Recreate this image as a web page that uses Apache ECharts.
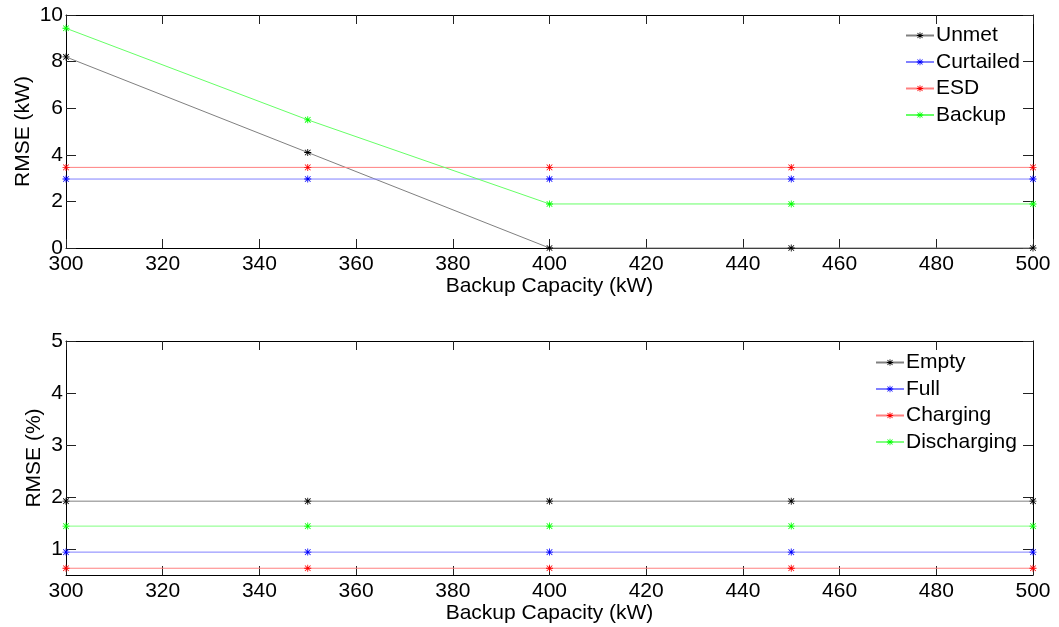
<!DOCTYPE html>
<html>
<head>
<meta charset="utf-8">
<script src="https://cdn.jsdelivr.net/npm/echarts@6/dist/echarts.min.js"></script>
<style>html,body{margin:0;padding:0;background:#fff}#c{width:1059px;height:627px}</style>
</head>
<body>
<div id="c"></div>
<script>
var capacity = [300, 350, 400, 450, 500];
var unmet = [8.2, 4.1, 0, 0, 0];
var curtailed = [2.96, 2.96, 2.96, 2.96, 2.96];
var esd = [3.46, 3.46, 3.46, 3.46, 3.46];
var backup = [9.43, 5.5, 1.89, 1.89, 1.89];

var empty = [1.92, 1.92, 1.92, 1.92, 1.92];
var full = [0.94, 0.94, 0.94, 0.94, 0.94];
var charging = [0.63, 0.63, 0.63, 0.63, 0.63];
var discharging = [1.44, 1.44, 1.44, 1.44, 1.44];

var xTicks = [300, 320, 340, 360, 380, 400, 420, 440, 460, 480, 500];
var yTicksTop = [0, 2, 4, 6, 8, 10];
var yTicksBottom = [1, 2, 3, 4, 5];

var FONT = 'Liberation Sans, Arial, sans-serif';
var FS = 21;
var STAR = 'path://M0 4.4L10 4.4L10 5.6L0 5.6Z M4.4 0L5.6 0L5.6 10L4.4 10Z M0.6 1.4L1.4 0.6L9.4 8.6L8.6 9.4Z M8.6 0.6L9.4 1.4L1.4 9.4L0.6 8.6Z';

function pairs(ys) { return capacity.map(function (x, i) { return [x, ys[i]]; }); }

function mkSeries(name, ys, color, lineColor, gi) {
  return {
    name: name, type: 'line', data: pairs(ys),
    xAxisIndex: gi * 2, yAxisIndex: gi * 2,
    symbol: STAR, symbolSize: 7, showSymbol: true,
    itemStyle: { color: color },
    lineStyle: { color: lineColor, width: 1 },
    emphasis: { disabled: true }, animation: false, clip: false
  };
}

function xAx(gi, shown, nameGap) {
  return {
    type: 'value', gridIndex: gi, position: shown ? 'bottom' : 'top',
    min: 300, max: 500, interval: 20,
    name: shown ? 'Backup Capacity (kW)' : '', nameLocation: 'middle', nameGap: nameGap,
    nameTextStyle: { fontFamily: FONT, fontSize: FS, color: '#000' },
    axisLine: { show: true, onZero: false, lineStyle: { color: '#000', width: 1 } },
    axisTick: { show: true, inside: true, length: 9, lineStyle: { color: '#222' }, customValues: xTicks },
    axisLabel: { show: shown, margin: 6, fontFamily: FONT, fontSize: FS, color: '#000', customValues: xTicks },
    splitLine: { show: false }
  };
}

function yAx(gi, shown, min, max, ticks, name, nameGap) {
  return {
    type: 'value', gridIndex: gi, position: shown ? 'left' : 'right',
    min: min, max: max,
    name: shown ? name : '', nameLocation: 'middle', nameGap: nameGap, nameMoveOverlap: false,
    nameTextStyle: { fontFamily: FONT, fontSize: FS, color: '#000' },
    axisLine: { show: true, onZero: false, lineStyle: { color: '#000', width: 1 } },
    axisTick: { show: true, inside: true, length: 10, lineStyle: { color: '#222' }, customValues: ticks },
    axisLabel: { show: shown, margin: 3, fontFamily: FONT, fontSize: FS, color: '#000', customValues: ticks },
    splitLine: { show: false }
  };
}

var chart = echarts.init(document.getElementById('c'), null, { renderer: 'canvas' });
chart.setOption({
  backgroundColor: '#fff',
  animation: false,
  grid: [
    { left: 66, right: 26, top: 15, height: 233 },
    { left: 66, right: 26, top: 341, height: 234 }
  ],
  xAxis: [xAx(0, true, 27), xAx(0, false, 0), xAx(1, true, 20), xAx(1, false, 0)],
  yAxis: [
    yAx(0, true, 0, 10, yTicksTop, 'RMSE (kW)', 32), yAx(0, false, 0, 10, yTicksTop, '', 0),
    yAx(1, true, 0.5, 5, yTicksBottom, 'RMSE (%)', 21), yAx(1, false, 0.5, 5, yTicksBottom, '', 0)
  ],
  legend: [
    {
      data: ['Unmet', 'Curtailed', 'ESD', 'Backup'],
      left: 905, top: 25, orient: 'vertical', itemWidth: 28, itemHeight: 8, itemGap: 5.5,
      textStyle: { fontFamily: FONT, fontSize: FS, color: '#000', lineHeight: 21, padding: [0, 0, 0, -3] },
      padding: 0, selectedMode: false
    },
    {
      data: ['Empty', 'Full', 'Charging', 'Discharging'],
      left: 875, top: 352, orient: 'vertical', itemWidth: 28, itemHeight: 8, itemGap: 5.5,
      textStyle: { fontFamily: FONT, fontSize: FS, color: '#000', lineHeight: 21, padding: [0, 0, 0, -3] },
      padding: 0, selectedMode: false
    }
  ],
  series: [
    mkSeries('Unmet', unmet, '#000000', '#808080', 0),
    mkSeries('Curtailed', curtailed, '#0000ff', '#8080ff', 0),
    mkSeries('ESD', esd, '#ff0000', '#ff8080', 0),
    mkSeries('Backup', backup, '#00ff00', '#66ff66', 0),
    mkSeries('Empty', empty, '#000000', '#808080', 1),
    mkSeries('Full', full, '#0000ff', '#8080ff', 1),
    mkSeries('Charging', charging, '#ff0000', '#ff8080', 1),
    mkSeries('Discharging', discharging, '#00ff00', '#80ff80', 1)
  ]
});
</script>
</body>
</html>
